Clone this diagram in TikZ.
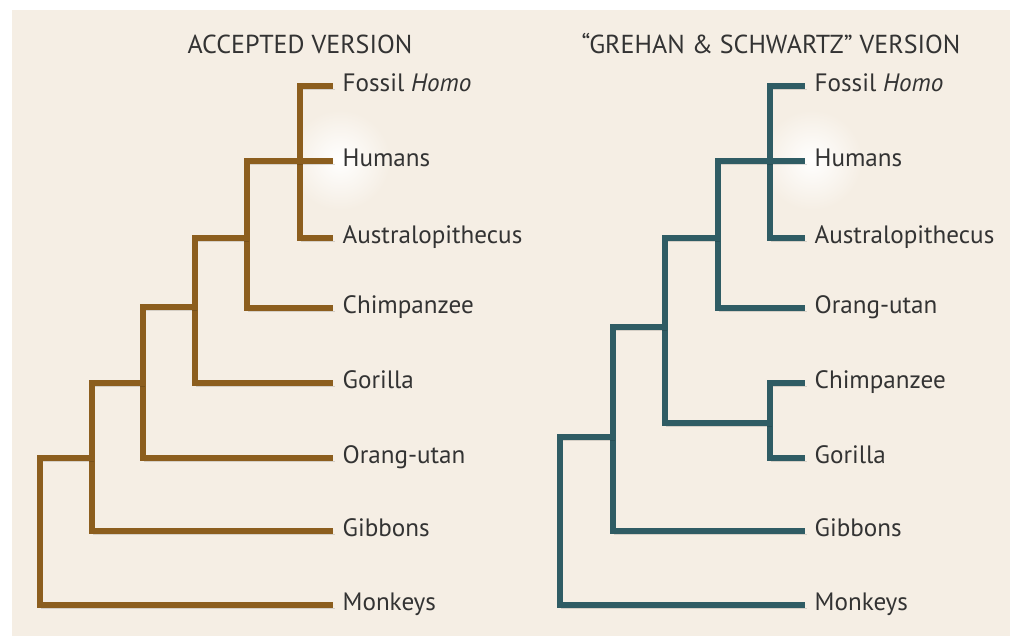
\documentclass[tikz,border=0pt]{standalone}
\usepackage{fontspec}
\setmainfont{PT Sans}
\definecolor{fond}{HTML}{F5EEE4}
\definecolor{brun}{HTML}{8C5E1E}
\definecolor{sarcelle}{HTML}{2F5C64}
\definecolor{texte}{HTML}{333333}
\tikzset{
  ombre/.style={preaction={draw=black, opacity=0.13, transform canvas={shift={(1pt,-1.8pt)}}}},
  brancheA/.style={draw=brun, line width=3pt, ombre},
  brancheB/.style={draw=sarcelle, line width=3pt, ombre},
  feuille/.style={anchor=west, inner xsep=5.5pt, inner ysep=0pt, outer sep=0pt,
    text=texte, font=\fontsize{14.3}{16}\selectfont, text height=1.6ex, text depth=0.3ex},
  titre/.style={text=texte, font=\fontsize{14.8}{17}\selectfont}
}
\begin{document}
\begin{tikzpicture}[x=0.02cm, y=-0.02cm]
\useasboundingbox (0,0) rectangle (1015,636);

% 1. Le fond beige
\fill[fond] (12,10) rectangle (1010,636);

% 2. Les halos blancs derriere Humans
\shade[inner color=white, outer color=fond] (340,160) circle[radius=1cm];
\shade[inner color=white, outer color=fond] (812,160) circle[radius=1cm];

% 3. Les titres
\node[titre] (titreA) at (300,44) {ACCEPTED VERSION};
\node[titre] (titreB) at (771,44) {“GREHAN \& SCHWARTZ” VERSION};

% 4. Les feuilles des deux arbres
\foreach \nom/\y/\txt in {Fossil/86/{Fossil \textit{Homo}}, Humans/161/Humans,
    Austral/238/Australopithecus, Chimp/308/Chimpanzee, Gorilla/383/Gorilla,
    Orang/458/Orang-utan, Gibbons/531/Gibbons, Monkeys/605/Monkeys} {
  \node[feuille] (g\nom) at (333,\y) {\txt};
}
\foreach \nom/\y/\txt in {Fossil/86/{Fossil \textit{Homo}}, Humans/161/Humans,
    Austral/238/Australopithecus, Orang/308/Orang-utan, Chimp/383/Chimpanzee,
    Gorilla/458/Gorilla, Gibbons/531/Gibbons, Monkeys/605/Monkeys} {
  \node[feuille] (d\nom) at (805,\y) {\txt};
}

% 5. Arbre accepte (noeuds internes)
\coordinate (a1) at (300,161);
\coordinate (a2) at (247,238);
\coordinate (a3) at (195,307);
\coordinate (a4) at (143,383);
\coordinate (a5) at (92,458);
\coordinate (a6) at (40,531);

\draw[brancheA] (a1) |- (gFossil);
\draw[brancheA] (a1) |- (gAustral);
\draw[brancheA] (a2) |- (gHumans);
\draw[brancheA] (a2) |- (gChimp);
\draw[brancheA] (a3) |- (a2);
\draw[brancheA] (a3) |- (gGorilla);
\draw[brancheA] (a4) |- (a3);
\draw[brancheA] (a4) |- (gOrang);
\draw[brancheA] (a5) |- (a4);
\draw[brancheA] (a5) |- (gGibbons);
\draw[brancheA] (a6) |- (a5);
\draw[brancheA] (a6) |- (gMonkeys);

% 6. Arbre "Grehan & Schwartz" (noeuds internes)
\coordinate (b1) at (770,161);
\coordinate (b2) at (718,238);
\coordinate (bcg) at (770,423);
\coordinate (b3) at (665,327);
\coordinate (b4) at (613,437);
\coordinate (b5) at (560,520);

\draw[brancheB] (b1) |- (dFossil);
\draw[brancheB] (b1) |- (dAustral);
\draw[brancheB] (b2) |- (dHumans);
\draw[brancheB] (b2) |- (dOrang);
\draw[brancheB] (bcg) |- (dChimp);
\draw[brancheB] (bcg) |- (dGorilla);
\draw[brancheB] (b3) |- (b2);
\draw[brancheB] (b3) |- (bcg);
\draw[brancheB] (b4) |- (b3);
\draw[brancheB] (b4) |- (dGibbons);
\draw[brancheB] (b5) |- (b4);
\draw[brancheB] (b5) |- (dMonkeys);
\end{tikzpicture}
\end{document}
